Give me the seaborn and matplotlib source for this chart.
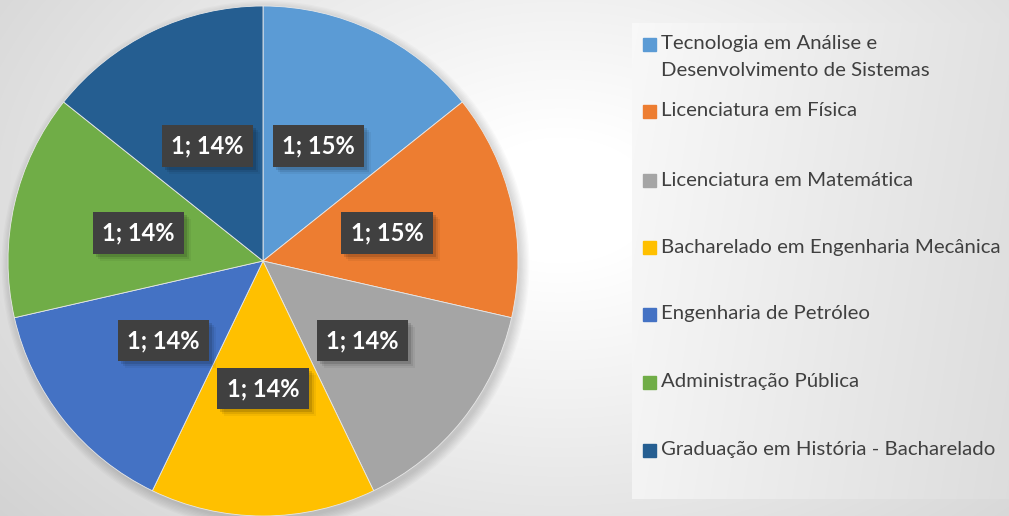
import numpy as np
import matplotlib
matplotlib.use("Agg")
import matplotlib.pyplot as plt
import seaborn as sns
from matplotlib.patches import Rectangle, Circle
from matplotlib.transforms import IdentityTransform

# --- Data ---
cursos = [
    "Tecnologia em Análise e\nDesenvolvimento de Sistemas",
    "Licenciatura em Física",
    "Licenciatura em Matemática",
    "Bacharelado em Engenharia Mecânica",
    "Engenharia de Petróleo",
    "Administração Pública",
    "Graduação em História - Bacharelado",
]
valores = [1, 1, 1, 1, 1, 1, 1]
percentuais = [15, 15, 14, 14, 14, 14, 14]
cores = ["#5B9BD5", "#ED7D31", "#A5A5A5", "#FFC000", "#4472C4", "#70AD47", "#255E91"]

sns.set_style("white")
plt.rcParams['font.family'] = ['Lato', 'DejaVu Sans']

W, H = 1009, 516
fig = plt.figure(figsize=(W / 100, H / 100), dpi=100)

# --- Background gradient ---
bg = fig.add_axes([0, 0, 1, 1], zorder=0)
yy, xx = np.mgrid[0:H, 0:W]
d = np.hypot((xx - 560) / 620, (yy - 200) / 420)
v = np.clip(1.0 - 0.17 * np.clip(d - 0.15, 0, None), 0.8, 1.0)
# legend panel
lx0, lx1, ly0, ly1 = 632, 1009, 23, 498
panel = (xx >= lx0) & (yy >= ly0) & (yy <= ly1)
pv = 0.975 - 0.09 * ((xx - lx0) / (lx1 - lx0)) - 0.02 * (yy / H)
v = np.where(panel, pv, v)
bg.imshow(np.dstack([v, v, v]), extent=[0, W, H, 0], aspect='auto')
bg.set_xlim(0, W)
bg.set_ylim(H, 0)
bg.axis('off')

# --- Pie ---
cx, cy, R = 263, 261, 255
ax = fig.add_axes([(cx - R) / W, (H - cy - R) / H, 2 * R / W, 2 * R / H], zorder=1)

wedges, _, autotexts = ax.pie(
    valores, colors=cores, startangle=90, counterclock=False, radius=1.0,
    autopct='%1.0f%%', pctdistance=0.5,
    wedgeprops=dict(linewidth=0.6, edgecolor='#e8e8e8'),
)
ax.set_xlim(-1, 1)
ax.set_ylim(-1, 1)
ax.set_aspect('equal')
ax.axis('off')

# soft shadow behind the pie
for k in range(8):
    ax.add_patch(Circle((0.01, -0.015), 1.0 + 0.005 * k, color='black', alpha=0.02,
                        zorder=0, lw=0, clip_on=False))

for t, p, val in zip(autotexts, percentuais, valores):
    t.set_text(f"{val}; {p}%")
    t.set_color('white')
    t.set_fontweight('bold')
    t.set_fontsize(17)
    t.set_zorder(5)
    t.set_bbox(dict(boxstyle='square,pad=0.4', fc='#404040', ec='none'))

# soft drop shadow under each label box
fig.canvas.draw()
for t in autotexts:
    bb = t.get_bbox_patch().get_window_extent()
    for k, a in enumerate([0.12, 0.08, 0.05]):
        off = 3 + 2 * k
        ax.add_artist(Rectangle((bb.x0 + off, bb.y0 - off), bb.width, bb.height,
                                transform=IdentityTransform(), fc='black', ec='none',
                                alpha=a, zorder=4.5, clip_on=False))

# --- Legend ---
item_y = [44, 111, 180, 247, 314, 382, 450]
for c, label, y in zip(cores, cursos, item_y):
    bg.add_patch(Rectangle((643, y - 6.5), 13, 13, color=c, zorder=3))
    for i, line in enumerate(label.split('\n')):
        bg.text(661, y + 26 * i, line, fontsize=14.7, color='#404040',
                va='center', ha='left', zorder=3)

fig.savefig('out.png', dpi=100)
